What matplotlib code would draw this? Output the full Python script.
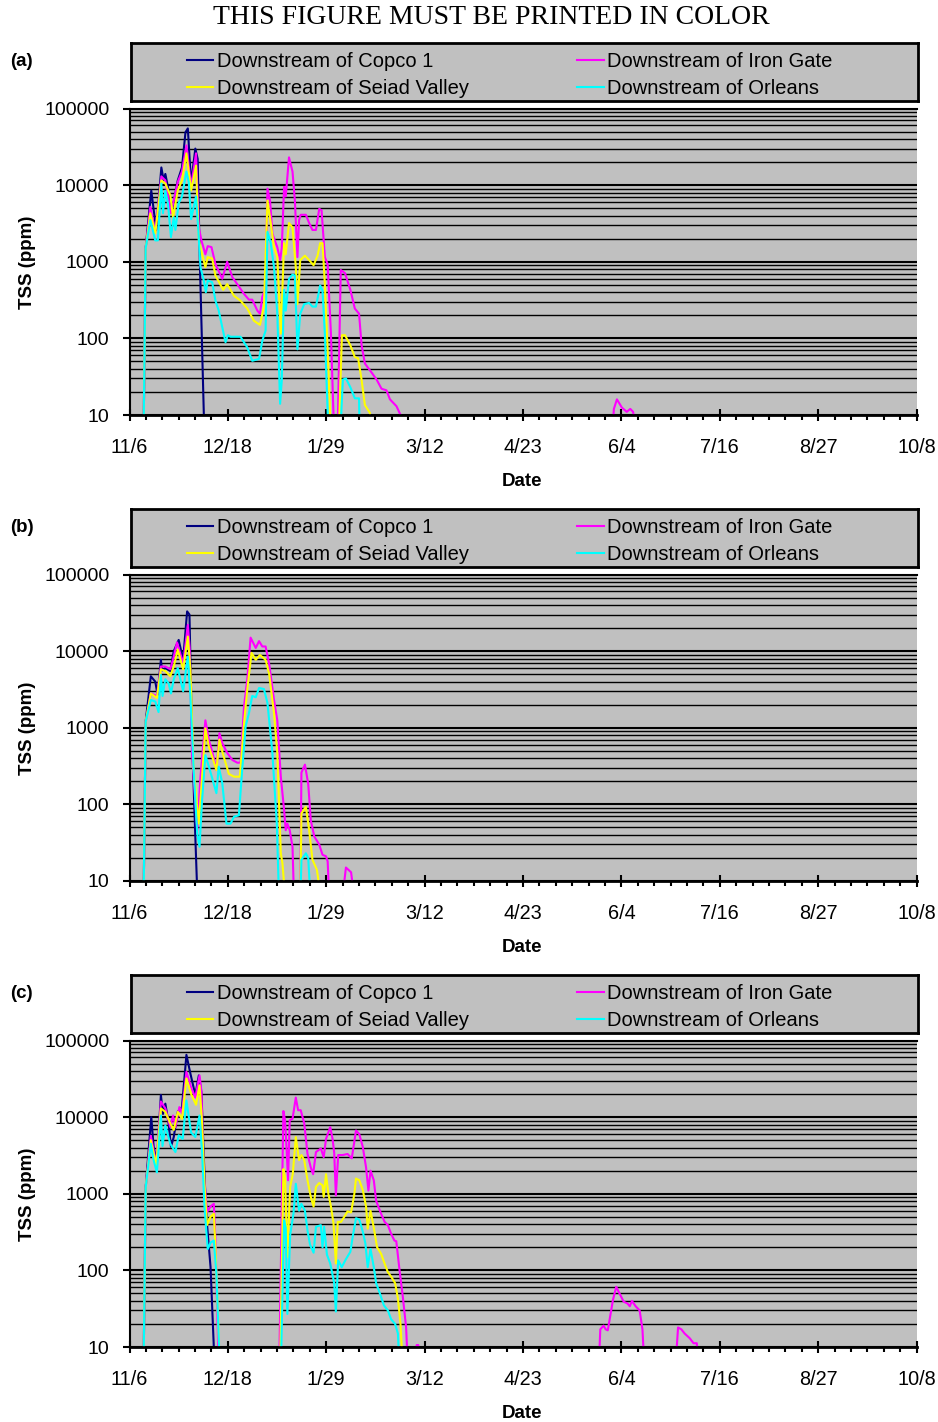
import numpy as np
import matplotlib.pyplot as plt
from matplotlib.ticker import LogLocator, MultipleLocator, FuncFormatter, NullFormatter

plt.rcParams['font.family'] = ['Liberation Sans', 'DejaVu Sans']

# x = days after 11/6, y = TSS (ppm); values below 10 drop off the axis
tick_labels = ['11/6', '12/18', '1/29', '3/12', '4/23', '6/4', '7/16', '8/27', '10/8']
series_names = ['Downstream of Copco 1', 'Downstream of Iron Gate',
                'Downstream of Seiad Valley', 'Downstream of Orleans']
series_colors = ['#000080', '#FF00FF', '#FFFF00', '#00FFFF']

# ---- panel (a)
a_copco_day = [6.0, 6.9, 9.3, 11.4, 13.6, 14.6, 15.3, 16.7, 18.1, 19.1, 20.6, 22.4, 23.9, 24.9,
               26.3, 28.1, 29.1, 30.0, 32.0]
a_copco_tss = [5, 1500, 8500, 2600, 17000, 11500, 14000, 8500, 4700, 6500, 11500, 17000, 49000, 55000,
               10500, 30000, 22000, 1100, 5]
a_iron_day = [6.0, 6.9, 8.9, 11.0, 13.6, 15.3, 17.7, 18.9, 20.6, 22.4, 24.3, 26.3, 28.4, 29.6, 30.7,
              32.4, 33.4, 35.0, 36.7, 39.6, 41.7, 43.9, 46.0, 48.9, 51.0, 52.4, 54.6, 55.7, 56.7, 58.1,
              58.9, 60.0, 61.0, 62.0, 63.1, 64.3, 65.0, 66.0, 66.7, 68.1, 69.6, 70.6, 71.7, 72.4, 73.1,
              75.3, 76.7, 78.1, 79.6, 81.0, 82.0, 83.4, 84.6, 86.0, 87.4, 88.8, 90.2, 92.0, 94.3, 96.2,
              98.0, 99.1, 100.5, 103.3, 105.5, 107.6, 109.7, 111.2, 114.0, 115.7, 116.2,
              206.0, 206.8, 208.1, 210.2, 212.3, 213.8, 215.0, 216.6]
a_iron_tss = [5, 1500, 5200, 2450, 13000, 11500, 4300, 6300, 11000, 15000, 33000, 9500, 26000, 2800, 1900,
              1250, 1600, 1550, 930, 600, 1000, 630, 510, 380, 320, 320, 230, 210, 350, 450,
              9000, 6300, 2350, 1900, 1550, 1050, 1500, 9500, 7100, 23000, 15000, 6300, 1150, 3500, 4100,
              4100, 3200, 2600, 2600, 4900, 4700, 1150, 930, 115, 5, 5, 780, 710, 430, 245,
              210, 81, 47, 36, 29, 22, 21, 16, 13, 10, 5,
              5, 12, 16, 12.5, 11, 12, 11, 5]
a_seiad_day = [6.0, 6.9, 8.9, 11.0, 13.6, 15.3, 17.4, 18.6, 20.6, 22.4, 24.3, 26.3, 28.4, 29.6, 31.0,
               32.4, 33.4, 35.3, 36.7, 40.0, 41.7, 44.6, 47.4, 50.3, 53.1, 55.7, 57.4, 58.9, 60.3, 61.7,
               63.1, 64.6, 66.0, 66.7, 68.1, 69.6, 71.0, 71.7, 72.9, 74.9, 76.7, 78.6, 80.3, 81.4, 82.4,
               83.4, 84.9, 86.0, 89.3, 90.7, 92.0, 94.3, 96.2, 97.6, 99.0, 100.5, 102.6, 103.8]
a_seiad_tss = [5, 1500, 4300, 2350, 11500, 10500, 7400, 3800, 8500, 11500, 26000, 8500, 18000, 1900, 1250,
               850, 1150, 1100, 660, 430, 510, 360, 310, 245, 170, 150, 260, 6300, 3200, 1550,
               1150, 115, 1750, 1250, 3200, 2800, 850, 280, 1050, 1200, 1050, 900, 1200, 1750, 1750,
               510, 42, 5, 5, 110, 110, 81, 57, 55, 30, 13.5, 10.7, 5]
a_orleans_day = [6.0, 6.9, 8.9, 11.0, 12.1, 13.6, 14.3, 15.3, 16.4, 17.7, 18.9, 19.6, 21.0, 22.4, 24.3,
                 25.3, 26.3, 27.4, 28.4, 29.3, 30.3, 31.7, 32.6, 33.4, 35.3, 36.7, 38.1, 39.6, 41.0, 42.0,
                 43.1, 47.4, 50.3, 52.4, 55.3, 56.7, 58.1, 58.9, 60.3, 61.7, 63.1, 64.3, 65.0, 66.0, 66.7,
                 68.1, 69.6, 70.6, 71.7, 72.9, 74.6, 76.7, 78.1, 79.6, 81.4, 82.4, 83.4, 85.0, 89.9, 91.1,
                 92.4, 94.3, 96.2, 98.0, 98.3]
a_orleans_tss = [5, 1500, 3500, 1900, 1900, 10500, 4300, 8500, 5800, 2100, 3800, 2600, 5800, 7100, 15000,
                 11000, 3600, 5200, 7100, 2800, 850, 570, 400, 570, 540, 310, 230, 140, 89, 110,
                 105, 105, 76, 51, 54, 93, 126, 2450, 1750, 850, 210, 14, 28, 430, 230,
                 600, 680, 660, 72, 210, 280, 290, 260, 260, 490, 420, 115, 5, 5, 29,
                 30, 23, 16.5, 16.5, 5]

# ---- panel (b)
b_copco_day = [6.0, 6.9, 9.1, 11.0, 12.0, 13.4, 13.9, 15.3, 17.4, 18.9, 21.0, 22.9, 24.6, 25.6, 26.7,
               28.1, 29.1]
b_copco_tss = [5, 1200, 4700, 4000, 2700, 7700, 5600, 6000, 5500, 10000, 14000, 7700, 33000, 30000, 760,
               38, 5]
b_iron_day = [6.0, 6.9, 9.1, 11.7, 13.4, 15.3, 17.4, 18.9, 20.3, 22.9, 24.9, 25.7, 26.7, 28.9, 30.3,
              32.4, 33.9, 35.3, 37.1, 38.4, 39.6, 41.7, 43.9, 46.0, 47.4, 48.9, 50.3, 51.7, 53.9, 55.3,
              56.7, 58.1, 59.6, 61.7, 63.1, 64.6, 66.0, 66.7, 67.4, 68.4, 69.6, 70.3, 72.9, 73.4, 74.9,
              76.3, 77.4, 78.9, 81.0, 82.4, 83.9, 84.6, 85.4, 90.6, 92.4, 94.6, 96.3]
b_iron_tss = [5, 1200, 2800, 2600, 6300, 6300, 5800, 8500, 13000, 6900, 22000, 11000, 470, 46, 230,
              1250, 690, 490, 280, 850, 630, 470, 380, 350, 350, 1900, 4300, 15000, 11000, 13500,
              11500, 11500, 6900, 2300, 1250, 230, 85, 46, 56, 46, 28, 5, 5, 260, 330,
              185, 62, 38, 30, 22, 21, 18, 5, 5, 15, 13, 5]
b_seiad_day = [6.0, 6.9, 9.1, 11.7, 13.4, 15.3, 17.4, 18.9, 20.6, 22.9, 24.9, 26.0, 27.4, 29.6, 31.0,
               32.4, 33.9, 35.3, 37.1, 38.4, 39.6, 42.4, 44.6, 47.1, 48.9, 50.3, 52.1, 53.9, 55.7, 58.1,
               59.6, 61.7, 63.1, 64.6, 65.3, 66.7, 72.9, 73.4, 75.3, 76.7, 78.1, 80.0, 82.1]
b_seiad_tss = [5, 1200, 2800, 2450, 5800, 5500, 4700, 6300, 10500, 5800, 15500, 5800, 280, 56, 230,
               980, 560, 420, 280, 700, 490, 250, 230, 230, 1150, 3200, 9500, 7700, 8900, 7700,
               5100, 1550, 470, 23, 17, 5, 5, 76, 93, 46, 19, 14, 5]
b_orleans_day = [6.0, 6.9, 9.1, 11.0, 12.4, 13.4, 14.1, 15.3, 16.7, 17.7, 18.9, 20.6, 22.9, 24.9, 26.0,
                 27.4, 28.9, 29.9, 31.0, 32.4, 33.9, 35.3, 37.1, 38.1, 39.6, 41.4, 43.1, 44.6, 46.7, 48.1,
                 49.6, 51.0, 52.4, 53.9, 55.3, 57.4, 58.9, 61.0, 62.9, 63.9, 72.9, 73.4, 75.3, 76.3, 77.4]
b_orleans_tss = [5, 1200, 2300, 2200, 1600, 4900, 2600, 4300, 3800, 2800, 4300, 6000, 3000, 8500, 2600,
                 280, 42, 28, 115, 440, 310, 220, 140, 310, 190, 56, 56, 69, 72, 280,
                 1050, 1550, 2600, 2500, 3300, 3200, 2100, 470, 56, 5, 5, 19, 23, 20, 5]

# ---- panel (c)
c_copco_day = [6.0, 6.9, 9.3, 10.3, 11.7, 13.4, 14.3, 15.3, 16.7, 17.7, 18.9, 20.6, 22.4, 24.3, 26.0,
               28.1, 29.6, 30.7, 32.1, 33.1, 34.6, 36.4]
c_copco_tss = [5, 1200, 10000, 4100, 2500, 19500, 11000, 15000, 8300, 4100, 5500, 11700, 13500, 65000, 37000,
               19500, 35000, 21000, 1500, 400, 110, 5]
c_iron_day = [6.0, 6.9, 9.1, 11.4, 13.4, 15.3, 17.4, 18.6, 19.6, 21.3, 22.4, 24.3, 26.3, 28.1, 29.9,
              30.7, 31.7, 33.1, 34.6, 36.0, 36.7, 38.1,
              63.9, 65.7, 66.4, 67.1, 67.7, 68.4, 69.6, 71.0, 72.0, 73.1, 74.6, 76.0, 77.4, 78.4, 79.6,
              81.7, 82.9, 83.9, 85.7, 86.7, 87.4, 88.1, 89.1, 91.0, 93.1, 94.9, 96.7, 98.1, 99.6, 101.0,
              102.0, 102.9, 104.3, 105.3, 107.4, 108.9, 110.3, 111.7, 113.1, 113.9, 115.3, 116.7, 118.1,
              118.9, 121.9, 122.6, 123.3, 123.8,
              200.3, 201.0, 202.4, 203.3, 204.2, 206.4, 207.8, 209.2, 211.0, 212.6, 213.6, 214.5, 216.1,
              217.8, 219.0, 219.9,
              233.0, 234.2, 235.6, 237.0, 239.2, 240.8, 242.2, 243.0]
c_iron_tss = [5, 1200, 5700, 2450, 16000, 13000, 7400, 10500, 7400, 13500, 11200, 39000, 24500, 18000, 35000,
              22000, 1800, 580, 680, 740, 250, 5,
              5, 12000, 9100, 3700, 1500, 9100, 9500, 18000, 12300, 12300, 8300, 3300, 2200, 1800, 3500,
              3900, 3000, 5200, 7400, 5200, 3400, 950, 3200, 3200, 3300, 2900, 6700, 6000, 4100, 2200,
              1100, 2000, 1500, 810, 550, 430, 390, 300, 245, 240, 100, 45, 18,
              5, 5, 10.6, 10.6, 5,
              5, 17, 19, 17, 16.5, 41, 61, 50, 39, 37, 34, 40, 34,
              30, 17, 5,
              5, 18, 17, 15, 13, 11.2, 11.2, 5]
c_seiad_day = [6.0, 6.9, 9.1, 11.4, 13.4, 15.3, 17.4, 18.9, 20.6, 22.4, 24.3, 26.3, 28.4, 29.9, 31.0,
               32.0, 33.1, 34.6, 36.0, 36.7, 38.6,
               64.3, 65.7, 66.4, 67.4, 68.6, 69.7, 71.0, 72.4, 73.4, 74.6, 76.0, 77.4, 78.6, 79.6, 81.0,
               82.4, 82.9, 83.9, 84.9, 86.0, 87.1, 88.1, 88.9, 90.3, 91.7, 93.1, 94.6, 96.0, 96.7, 98.1,
               99.6, 101.0, 101.7, 102.9, 104.3, 105.7, 107.4, 108.9, 110.3, 111.7, 113.4, 114.6, 115.7,
               116.7]
c_seiad_tss = [5, 1200, 5000, 2350, 13000, 11700, 8300, 6800, 11700, 9500, 32000, 20000, 14500, 26000, 8300,
               1350, 390, 500, 550, 200, 5,
               5, 2100, 1650, 150, 1230, 1800, 5500, 2750, 3200, 2750, 1500, 910, 680, 1230, 1380,
               1290, 910, 1800, 1000, 680, 410, 123, 430, 430, 500, 590, 570, 1000, 1580, 1500,
               1120, 680, 350, 600, 360, 200, 165, 123, 95, 83, 68, 43, 20,
               5]
c_orleans_day = [6.0, 6.9, 9.1, 10.3, 11.7, 13.4, 14.1, 15.3, 17.4, 19.6, 21.0, 22.7, 24.3, 26.3, 28.1,
                 29.9, 31.0, 32.0, 33.4, 34.6, 36.0, 37.1, 38.6,
                 64.6, 66.0, 66.7, 67.4, 68.6, 70.0, 71.0, 72.4, 73.4, 74.9, 76.0, 77.1, 78.6, 79.6, 81.7,
                 82.4, 83.1, 84.3, 85.7, 87.4, 88.1, 89.1, 90.6, 92.4, 94.3, 95.3, 96.7, 98.1, 99.6, 100.7,
                 101.7, 102.9, 104.3, 105.3, 106.7, 108.6, 110.3, 111.7, 113.4, 114.6, 115.3]
c_orleans_tss = [5, 1200, 4500, 2750, 1900, 10500, 4200, 7800, 4500, 3500, 5800, 5200, 16500, 6300, 5500,
                 10500, 3400, 680, 190, 230, 245, 91, 5,
                 5, 450, 360, 27, 290, 550, 1350, 600, 740, 600, 330, 215, 170, 370, 390,
                 200, 370, 160, 123, 68, 29, 135, 110, 140, 175, 275, 480, 460, 320, 225,
                 110, 190, 110, 68, 52, 35, 30, 23, 20, 15, 5]

panels = [
    ('(a)', [(a_copco_day, a_copco_tss), (a_iron_day, a_iron_tss), (a_seiad_day, a_seiad_tss), (a_orleans_day, a_orleans_tss)]),
    ('(b)', [(b_copco_day, b_copco_tss), (b_iron_day, b_iron_tss), (b_seiad_day, b_seiad_tss), (b_orleans_day, b_orleans_tss)]),
    ('(c)', [(c_copco_day, c_copco_tss), (c_iron_day, c_iron_tss), (c_seiad_day, c_seiad_tss), (c_orleans_day, c_orleans_tss)]),
]

W, H = 938, 1422
fig = plt.figure(figsize=(W / 100, H / 100), dpi=100)
fig.text(491 / W, 1 - 23.5 / H, 'THIS FIGURE MUST BE PRINTED IN COLOR',
         family='Liberation Serif', fontsize=20, ha='center', va='baseline')

gray = '#C0C0C0'
for i, (tag, data) in enumerate(panels):
    off = 466 * i
    ax = fig.add_axes([129.5 / W, 1 - (415 + off) / H, 787 / W, 306.5 / H])
    ax.set_facecolor(gray)
    lines = []
    for (d, v), c, name in zip(data, series_colors, series_names):
        ln, = ax.plot(d, v, color=c, lw=1.5, label=name)
        lines.append(ln)

    ax.set_yscale('log')
    ax.set_ylim(10, 100000)
    ax.set_xlim(0, 336)
    ax.yaxis.set_major_locator(LogLocator(base=10))
    ax.yaxis.set_minor_locator(LogLocator(base=10, subs=np.arange(2, 10)))
    ax.yaxis.set_major_formatter(FuncFormatter(lambda y, p: '%d' % y))
    ax.yaxis.set_minor_formatter(NullFormatter())
    ax.yaxis.grid(True, which='major', color='black', lw=1.5)
    ax.yaxis.grid(True, which='minor', color='black', lw=1.0)
    ax.set_axisbelow(True)

    ax.xaxis.set_major_locator(MultipleLocator(42))
    ax.xaxis.set_minor_locator(MultipleLocator(7))
    ax.set_xticks(np.arange(0, 337, 42))
    ax.set_xticklabels(tick_labels)

    ax.tick_params(axis='y', which='major', direction='out', length=5, width=1.5,
                   pad=9.5, labelsize=14)
    ax.tick_params(axis='y', which='minor', length=0)
    ax.tick_params(axis='x', which='major', direction='inout', length=8, width=1.5,
                   pad=12.5, labelsize=14.3)
    ax.tick_params(axis='x', which='minor', direction='out', length=3.6, width=1.5)

    ax.spines['right'].set_visible(False)
    ax.spines['top'].set_linewidth(1.5)
    ax.spines['left'].set_linewidth(1.5)
    ax.spines['bottom'].set_linewidth(2)

    fig.text(27 / W, 1 - (262 + off) / H, 'TSS (ppm)', rotation=90, fontsize=13.5,
             fontweight='bold', ha='center', va='center')
    fig.text(522 / W, 1 - (481 + off) / H, 'Date', fontsize=13.5, fontweight='bold',
             ha='center', va='center')
    fig.text(10 / W, 1 - (61 + off) / H, tag, fontsize=13.5, fontweight='bold',
             ha='left', va='center')

    # legend box
    lax = fig.add_axes([130.7 / W, 1 - (100.5 + off) / H, 787.3 / W, 57.5 / H])
    lax.set_facecolor(gray)
    lax.set_xticks([])
    lax.set_yticks([])
    for s in lax.spines.values():
        s.set_linewidth(2)
    order = [0, 2, 1, 3]
    lax.legend([lines[k] for k in order], [series_names[k] for k in order], ncol=2,
               loc='center left', bbox_to_anchor=(56 / 787.3, 0.45), frameon=False,
               fontsize=14.5, handlelength=1.32, handletextpad=0.17, columnspacing=5.4,
               labelspacing=0.4, borderpad=0, borderaxespad=0)

fig.savefig('out.png', dpi=100)
